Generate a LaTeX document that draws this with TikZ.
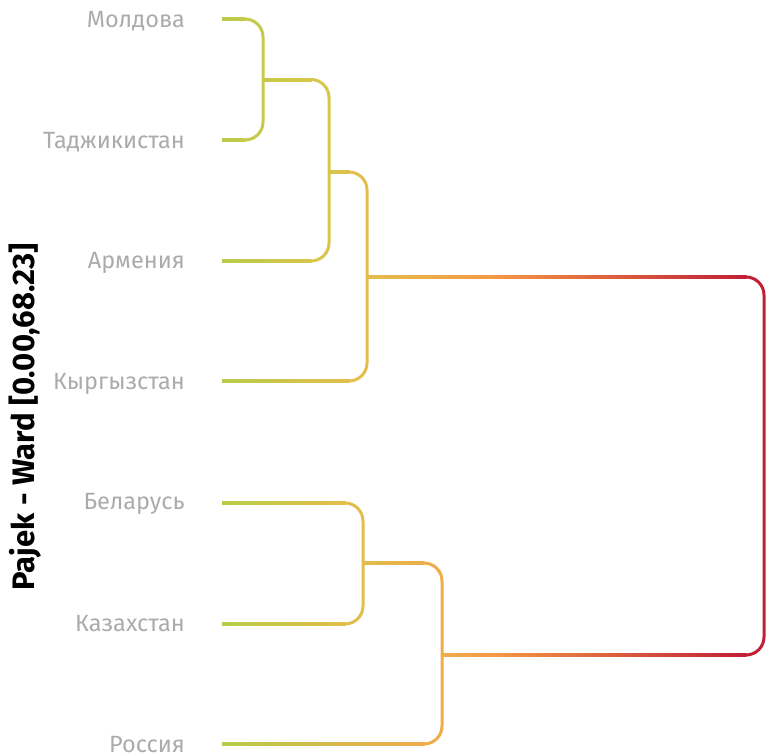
\documentclass[tikz,border=0pt]{standalone}
\usepackage{fontspec}
\usepackage{graphicx}
\setmainfont{Fira Sans}
\definecolor{leafc}{HTML}{B8CC48}
\definecolor{mA}{HTML}{C6CA4A}
\definecolor{mB}{HTML}{D8C54C}
\definecolor{mC}{HTML}{E2BE4C}
\definecolor{mD}{HTML}{E3BD4C}
\definecolor{mE}{HTML}{EEAC4A}
\definecolor{orng}{HTML}{F59A45}
\definecolor{redc}{HTML}{C01F36}
\definecolor{labelgray}{HTML}{ABABAB}
% horizontal gradient stroke: x1, x2, y, left colour, right colour
\newcommand\hgrad[5]{\shade[left color=#4, right color=#5] (#1,#3-1.5) rectangle (#2,#3+1.5);}
\begin{document}
\begin{tikzpicture}[x=1pt,y=-1pt,
  lbl/.style={anchor=base east, text=labelgray, font=\fontsize{23.5}{26}\selectfont, inner sep=0pt},
  link/.style={line width=3pt, rounded corners=18pt}]
\useasboundingbox (0,0) rectangle (769,755);
% labels
\node[lbl] (mol) at (185,27) {Молдова};
\node[lbl] (taj) at (185,148) {Таджикистан};
\node[lbl] (arm) at (185,268) {Армения};
\node[lbl] (kyr) at (185,389) {Кыргызстан};
\node[lbl] (bel) at (185,509) {Беларусь};
\node[lbl] (kaz) at (185,631) {Казахстан};
\node[lbl] (rus) at (185,752) {Россия};
\node[rotate=90, inner sep=0pt, font=\bfseries] (title) at (25,416.5)
  {\resizebox{347pt}{!}{Pajek - Ward [0.00,68.23]}};
% merge points
\coordinate (m1) at (263,79.5);
\coordinate (m2) at (329,172);
\coordinate (m3) at (367,277);
\coordinate (m4) at (363,563);
\coordinate (m5) at (442,655);
% horizontal strokes
\hgrad{222}{245.5}{19}{leafc}{mA}
\hgrad{222}{245.5}{140}{leafc}{mA}
\hgrad{263}{311.5}{79.5}{mA}{mB}
\hgrad{222}{311.5}{261}{leafc}{mB}
\hgrad{329}{349.5}{172}{mB}{mC}
\hgrad{222}{349.5}{381}{leafc}{mC}
\hgrad{222}{345.5}{503}{leafc}{mD}
\hgrad{222}{345.5}{624}{leafc}{mD}
\hgrad{363}{424.5}{563}{mD}{mE}
\hgrad{222}{424.5}{744}{leafc}{mE}
\hgrad{367}{490}{277}{mC}{orng}
\hgrad{489.5}{746.5}{277}{orng}{redc}
\hgrad{442}{490}{655}{mE}{orng}
\hgrad{489.5}{746.5}{655}{orng}{redc}
% vertical brackets
\draw[link, mA] (245,19) -- (263,19) -- (263,140) -- (245,140);
\draw[link, mB] (311,79.5) -- (329,79.5) -- (329,261) -- (311,261);
\draw[link, mC] (349,172) -- (367,172) -- (367,381) -- (349,381);
\draw[link, mD] (345,503) -- (363,503) -- (363,624) -- (345,624);
\draw[link, mE] (424,563) -- (442,563) -- (442,744) -- (424,744);
\draw[link, redc] (746,277) -- (764,277) -- (764,655) -- (746,655);
\end{tikzpicture}
\end{document}
